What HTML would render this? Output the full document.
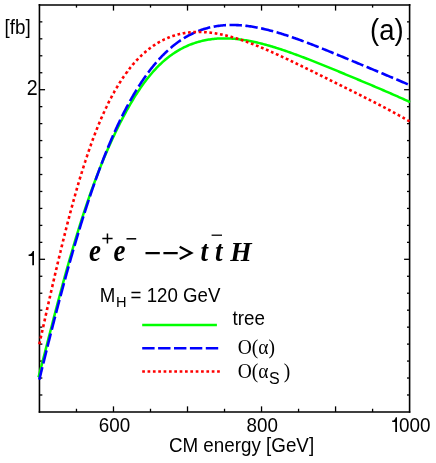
<!DOCTYPE html>
<html><head><meta charset="utf-8"><title>plot</title>
<style>
html,body{margin:0;padding:0;background:#fff;}
body{width:436px;height:463px;overflow:hidden;}
svg{display:block;will-change:transform;}
text{fill:#000;}
.sans{font-family:"Liberation Sans",sans-serif;}
.serif{font-family:"Liberation Serif",serif;}
</style></head><body>
<svg width="436" height="463" viewBox="0 0 436 463">
<rect x="0" y="0" width="436" height="463" fill="#fff"/>
<g stroke="#000" stroke-linecap="square">
<path d="M39.45,4.9 V411.95 M409.6,4.9 V411.95" stroke-width="1.6"/>
<path d="M39.45,4.9 H409.6 M39.45,411.95 H409.6" stroke-width="1.45"/>
</g>
<g stroke="#000" stroke-width="1.3">
<line x1="76.47" y1="411.95" x2="76.47" y2="408.75"/>
<line x1="76.47" y1="4.9" x2="76.47" y2="7.60"/>
<line x1="113.48" y1="411.95" x2="113.48" y2="406.35"/>
<line x1="113.48" y1="4.9" x2="113.48" y2="10.60"/>
<line x1="150.50" y1="411.95" x2="150.50" y2="408.75"/>
<line x1="150.50" y1="4.9" x2="150.50" y2="7.60"/>
<line x1="187.51" y1="411.95" x2="187.51" y2="406.35"/>
<line x1="187.51" y1="4.9" x2="187.51" y2="10.60"/>
<line x1="224.53" y1="411.95" x2="224.53" y2="408.75"/>
<line x1="224.53" y1="4.9" x2="224.53" y2="7.60"/>
<line x1="261.54" y1="411.95" x2="261.54" y2="406.35"/>
<line x1="261.54" y1="4.9" x2="261.54" y2="10.60"/>
<line x1="298.56" y1="411.95" x2="298.56" y2="408.75"/>
<line x1="298.56" y1="4.9" x2="298.56" y2="7.60"/>
<line x1="335.57" y1="411.95" x2="335.57" y2="406.35"/>
<line x1="335.57" y1="4.9" x2="335.57" y2="10.60"/>
<line x1="372.59" y1="411.95" x2="372.59" y2="408.75"/>
<line x1="372.59" y1="4.9" x2="372.59" y2="7.60"/>
<line x1="39.45" y1="394.99" x2="42.35" y2="394.99"/>
<line x1="409.6" y1="394.99" x2="407.00" y2="394.99"/>
<line x1="39.45" y1="378.03" x2="42.35" y2="378.03"/>
<line x1="409.6" y1="378.03" x2="407.00" y2="378.03"/>
<line x1="39.45" y1="361.07" x2="42.35" y2="361.07"/>
<line x1="409.6" y1="361.07" x2="407.00" y2="361.07"/>
<line x1="39.45" y1="344.11" x2="42.35" y2="344.11"/>
<line x1="409.6" y1="344.11" x2="407.00" y2="344.11"/>
<line x1="39.45" y1="327.15" x2="42.35" y2="327.15"/>
<line x1="409.6" y1="327.15" x2="407.00" y2="327.15"/>
<line x1="39.45" y1="310.19" x2="42.35" y2="310.19"/>
<line x1="409.6" y1="310.19" x2="407.00" y2="310.19"/>
<line x1="39.45" y1="293.23" x2="42.35" y2="293.23"/>
<line x1="409.6" y1="293.23" x2="407.00" y2="293.23"/>
<line x1="39.45" y1="276.27" x2="42.35" y2="276.27"/>
<line x1="409.6" y1="276.27" x2="407.00" y2="276.27"/>
<line x1="39.45" y1="259.31" x2="45.05" y2="259.31"/>
<line x1="409.6" y1="259.31" x2="404.10" y2="259.31"/>
<line x1="39.45" y1="242.35" x2="42.35" y2="242.35"/>
<line x1="409.6" y1="242.35" x2="407.00" y2="242.35"/>
<line x1="39.45" y1="225.39" x2="42.35" y2="225.39"/>
<line x1="409.6" y1="225.39" x2="407.00" y2="225.39"/>
<line x1="39.45" y1="208.42" x2="42.35" y2="208.42"/>
<line x1="409.6" y1="208.42" x2="407.00" y2="208.42"/>
<line x1="39.45" y1="191.46" x2="42.35" y2="191.46"/>
<line x1="409.6" y1="191.46" x2="407.00" y2="191.46"/>
<line x1="39.45" y1="174.50" x2="42.35" y2="174.50"/>
<line x1="409.6" y1="174.50" x2="407.00" y2="174.50"/>
<line x1="39.45" y1="157.54" x2="42.35" y2="157.54"/>
<line x1="409.6" y1="157.54" x2="407.00" y2="157.54"/>
<line x1="39.45" y1="140.58" x2="42.35" y2="140.58"/>
<line x1="409.6" y1="140.58" x2="407.00" y2="140.58"/>
<line x1="39.45" y1="123.62" x2="42.35" y2="123.62"/>
<line x1="409.6" y1="123.62" x2="407.00" y2="123.62"/>
<line x1="39.45" y1="106.66" x2="42.35" y2="106.66"/>
<line x1="409.6" y1="106.66" x2="407.00" y2="106.66"/>
<line x1="39.45" y1="89.70" x2="45.05" y2="89.70"/>
<line x1="409.6" y1="89.70" x2="404.10" y2="89.70"/>
<line x1="39.45" y1="72.74" x2="42.35" y2="72.74"/>
<line x1="409.6" y1="72.74" x2="407.00" y2="72.74"/>
<line x1="39.45" y1="55.78" x2="42.35" y2="55.78"/>
<line x1="409.6" y1="55.78" x2="407.00" y2="55.78"/>
<line x1="39.45" y1="38.82" x2="42.35" y2="38.82"/>
<line x1="409.6" y1="38.82" x2="407.00" y2="38.82"/>
<line x1="39.45" y1="21.86" x2="42.35" y2="21.86"/>
<line x1="409.6" y1="21.86" x2="407.00" y2="21.86"/>
</g>
<g fill="none">
<path d="M38.50,377.28 L39.74,372.49 L40.98,367.69 L42.23,362.87 L43.47,358.04 L44.71,353.20 L45.95,348.35 L47.20,343.51 L48.44,338.67 L49.68,333.84 L50.92,329.01 L52.17,324.20 L53.41,319.41 L54.65,314.63 L55.89,309.87 L57.14,305.14 L58.38,300.44 L59.62,295.76 L60.86,291.11 L62.11,286.49 L63.35,281.91 L64.59,277.37 L65.83,272.87 L67.08,268.40 L68.32,263.98 L69.56,259.60 L70.80,255.27 L72.05,250.98 L73.29,246.74 L74.53,242.54 L75.77,238.40 L77.02,234.31 L78.26,230.26 L79.50,226.27 L80.74,222.33 L81.99,218.44 L83.23,214.61 L84.47,210.82 L85.71,207.10 L86.96,203.42 L88.20,199.80 L89.44,196.23 L90.68,192.71 L91.93,189.24 L93.17,185.83 L94.41,182.47 L95.65,179.16 L96.90,175.89 L98.14,172.68 L99.38,169.51 L100.62,166.40 L101.87,163.32 L103.11,160.30 L104.35,157.31 L105.59,154.37 L106.84,151.48 L108.08,148.62 L109.32,145.81 L110.56,143.03 L111.81,140.30 L113.05,137.60 L114.29,134.95 L115.53,132.33 L116.78,129.76 L118.02,127.22 L119.26,124.72 L120.50,122.26 L121.75,119.83 L122.99,117.44 L124.23,115.10 L125.47,112.79 L126.72,110.51 L127.96,108.28 L129.20,106.09 L130.44,103.93 L131.69,101.81 L132.93,99.74 L134.17,97.70 L135.41,95.71 L136.66,93.75 L137.90,91.84 L139.14,89.96 L140.38,88.13 L141.63,86.34 L142.87,84.59 L144.11,82.87 L145.35,81.20 L146.60,79.57 L147.84,77.98 L149.08,76.43 L150.32,74.92 L151.57,73.45 L152.81,72.02 L154.05,70.63 L155.29,69.28 L156.54,67.96 L157.78,66.68 L159.02,65.44 L160.26,64.24 L161.51,63.07 L162.75,61.94 L163.99,60.84 L165.23,59.78 L166.47,58.75 L167.72,57.75 L168.96,56.78 L170.20,55.85 L171.44,54.95 L172.69,54.07 L173.93,53.23 L175.17,52.42 L176.41,51.63 L177.66,50.87 L178.90,50.14 L180.14,49.44 L181.38,48.76 L182.63,48.11 L183.87,47.48 L185.11,46.88 L186.35,46.30 L187.60,45.74 L188.84,45.21 L190.08,44.70 L191.32,44.22 L192.57,43.75 L193.81,43.31 L195.05,42.89 L196.29,42.49 L197.54,42.11 L198.78,41.75 L200.02,41.42 L201.26,41.10 L202.51,40.80 L203.75,40.52 L204.99,40.26 L206.23,40.01 L207.48,39.79 L208.72,39.58 L209.96,39.39 L211.20,39.22 L212.45,39.06 L213.69,38.92 L214.93,38.80 L216.17,38.70 L217.42,38.61 L218.66,38.53 L219.90,38.47 L221.14,38.43 L222.39,38.40 L223.63,38.39 L224.87,38.38 L226.11,38.40 L227.36,38.43 L228.60,38.47 L229.84,38.52 L231.08,38.59 L232.33,38.67 L233.57,38.76 L234.81,38.86 L236.05,38.98 L237.30,39.11 L238.54,39.24 L239.78,39.40 L241.02,39.56 L242.27,39.73 L243.51,39.91 L244.75,40.11 L245.99,40.31 L247.24,40.52 L248.48,40.75 L249.72,40.98 L250.96,41.22 L252.21,41.47 L253.45,41.73 L254.69,42.00 L255.93,42.27 L257.18,42.56 L258.42,42.85 L259.66,43.15 L260.90,43.46 L262.15,43.78 L263.39,44.10 L264.63,44.43 L265.87,44.77 L267.12,45.11 L268.36,45.46 L269.60,45.82 L270.84,46.18 L272.09,46.55 L273.33,46.93 L274.57,47.31 L275.81,47.69 L277.06,48.08 L278.30,48.48 L279.54,48.88 L280.78,49.29 L282.03,49.70 L283.27,50.12 L284.51,50.54 L285.75,50.96 L286.99,51.39 L288.24,51.82 L289.48,52.26 L290.72,52.70 L291.96,53.15 L293.21,53.59 L294.45,54.05 L295.69,54.50 L296.93,54.96 L298.18,55.42 L299.42,55.88 L300.66,56.35 L301.90,56.82 L303.15,57.29 L304.39,57.77 L305.63,58.24 L306.87,58.72 L308.12,59.20 L309.36,59.69 L310.60,60.17 L311.84,60.66 L313.09,61.15 L314.33,61.64 L315.57,62.13 L316.81,62.63 L318.06,63.12 L319.30,63.62 L320.54,64.12 L321.78,64.62 L323.03,65.12 L324.27,65.62 L325.51,66.13 L326.75,66.63 L328.00,67.14 L329.24,67.65 L330.48,68.15 L331.72,68.66 L332.97,69.17 L334.21,69.68 L335.45,70.19 L336.69,70.70 L337.94,71.21 L339.18,71.73 L340.42,72.24 L341.66,72.75 L342.91,73.27 L344.15,73.78 L345.39,74.30 L346.63,74.81 L347.88,75.33 L349.12,75.85 L350.36,76.36 L351.60,76.88 L352.85,77.40 L354.09,77.92 L355.33,78.44 L356.57,78.96 L357.82,79.48 L359.06,79.99 L360.30,80.52 L361.54,81.04 L362.79,81.56 L364.03,82.08 L365.27,82.60 L366.51,83.12 L367.76,83.65 L369.00,84.17 L370.24,84.69 L371.48,85.22 L372.73,85.74 L373.97,86.27 L375.21,86.80 L376.45,87.33 L377.70,87.85 L378.94,88.38 L380.18,88.91 L381.42,89.44 L382.67,89.98 L383.91,90.51 L385.15,91.04 L386.39,91.58 L387.64,92.12 L388.88,92.65 L390.12,93.19 L391.36,93.74 L392.61,94.28 L393.85,94.82 L395.09,95.37 L396.33,95.92 L397.58,96.46 L398.82,97.02 L400.06,97.57 L401.30,98.12 L402.55,98.68 L403.79,99.24 L405.03,99.80 L406.27,100.37 L407.52,100.94 L408.76,101.51 L410.00,102.08" stroke="#00ff00" stroke-width="2.5"/>
<path d="M39.30,379.60 L39.42,379.10 L39.67,378.09 L39.92,377.09 L40.17,376.08 L40.41,375.08 L40.66,374.07 L40.91,373.07 L41.15,372.07 L41.40,371.07 L41.65,370.06 L41.90,369.06 L42.14,368.06 L42.36,367.18 M43.28,363.47 L43.50,362.57 L43.75,361.57 L44.00,360.58 L44.24,359.58 L44.49,358.59 L44.74,357.59 L44.99,356.60 L45.23,355.61 L45.48,354.62 L45.73,353.62 L45.97,352.63 L46.22,351.64 L46.47,350.66 L46.56,350.31 M47.49,346.60 L47.71,345.72 L47.95,344.74 L48.20,343.76 L48.45,342.77 L48.69,341.79 L48.94,340.81 L49.19,339.83 L49.44,338.85 L49.68,337.88 L49.93,336.90 L50.18,335.92 L50.42,334.95 L50.67,333.97 L50.80,333.46 M51.75,329.75 L51.91,329.12 L52.16,328.15 L52.40,327.18 L52.65,326.22 L52.90,325.25 L53.14,324.29 L53.39,323.32 L53.64,322.36 L53.89,321.40 L54.13,320.44 L54.38,319.48 L54.63,318.52 L54.87,317.57 L55.12,316.62 M56.08,312.92 L56.36,311.85 L56.73,310.43 L57.10,309.01 L57.47,307.59 L57.84,306.17 L58.21,304.76 L58.58,303.35 L58.95,301.95 L59.32,300.54 L59.52,299.81 M60.50,296.12 L60.81,294.96 L61.18,293.57 L61.55,292.18 L61.92,290.80 L62.29,289.42 L62.66,288.04 L63.03,286.67 L63.40,285.29 L63.77,283.93 L64.02,283.04 M65.02,279.35 L65.38,278.04 L65.75,276.68 L66.12,275.34 L66.49,273.99 L66.86,272.65 L67.24,271.31 L67.61,269.98 L67.98,268.65 L68.35,267.32 L68.63,266.30 M69.67,262.62 L69.95,261.60 L70.33,260.29 L70.70,258.99 L71.07,257.68 L71.44,256.38 L71.81,255.09 L72.18,253.80 L72.55,252.51 L72.92,251.22 L73.29,249.94 L73.39,249.61 M74.45,245.95 L74.78,244.85 L75.15,243.59 L75.52,242.33 L75.89,241.07 L76.26,239.82 L76.63,238.57 L77.00,237.33 L77.37,236.09 L77.74,234.85 L78.11,233.62 L78.30,232.98 M79.41,229.33 L79.72,228.32 L80.09,227.10 L80.46,225.89 L80.83,224.69 L81.20,223.49 L81.57,222.29 L81.94,221.10 L82.32,219.91 L82.69,218.72 L83.06,217.54 L83.41,216.42 M84.56,212.78 L84.91,211.69 L85.28,210.53 L85.65,209.38 L86.02,208.23 L86.39,207.08 L86.77,205.94 L87.14,204.80 L87.51,203.67 L87.88,202.54 L88.25,201.41 L88.62,200.29 L88.74,199.94 M89.94,196.32 L90.23,195.48 L90.60,194.38 L90.97,193.29 L91.34,192.19 L91.71,191.11 L92.08,190.02 L92.45,188.94 L92.82,187.87 L93.19,186.80 L93.56,185.73 L93.93,184.67 L94.31,183.61 L94.32,183.56 M95.59,179.97 L95.91,179.08 L96.28,178.04 L96.65,177.01 L97.02,175.98 L97.40,174.96 L97.77,173.94 L98.14,172.92 L98.51,171.91 L98.88,170.91 L99.25,169.90 L99.62,168.90 L99.99,167.91 L100.21,167.32 M101.56,163.76 L101.97,162.68 L102.46,161.39 L102.96,160.11 L103.45,158.84 L103.95,157.57 L104.44,156.31 L104.94,155.06 L105.43,153.82 L105.92,152.58 L106.42,151.35 L106.46,151.24 M107.90,147.72 L108.27,146.81 L108.77,145.61 L109.26,144.43 L109.76,143.25 L110.25,142.08 L110.75,140.91 L111.24,139.75 L111.73,138.60 L112.23,137.46 L112.72,136.33 L113.14,135.37 M114.68,131.91 L115.07,131.03 L115.57,129.94 L116.06,128.85 L116.55,127.78 L117.05,126.70 L117.54,125.64 L118.04,124.58 L118.53,123.53 L119.03,122.49 L119.52,121.45 L120.02,120.42 L120.33,119.77 M121.99,116.38 L122.49,115.38 L123.11,114.15 L123.72,112.92 L124.34,111.71 L124.96,110.51 L125.58,109.32 L126.20,108.14 L126.81,106.96 L127.43,105.80 L128.05,104.66 L128.12,104.52 M129.93,101.22 L130.52,100.16 L131.14,99.06 L131.76,97.97 L132.38,96.89 L132.99,95.82 L133.61,94.76 L134.23,93.72 L134.85,92.68 L135.47,91.65 L136.08,90.63 L136.63,89.75 M138.61,86.57 L139.30,85.48 L140.04,84.33 L140.78,83.19 L141.52,82.07 L142.27,80.96 L143.01,79.86 L143.75,78.78 L144.49,77.71 L145.23,76.65 L145.97,75.61 L145.98,75.60 M148.16,72.60 L148.82,71.73 L149.56,70.75 L150.30,69.78 L151.04,68.82 L151.78,67.88 L152.52,66.95 L153.27,66.03 L154.01,65.12 L154.75,64.23 L155.49,63.35 L156.23,62.48 L156.34,62.35 M158.78,59.59 L159.57,58.72 L160.44,57.78 L161.30,56.87 L162.17,55.96 L163.03,55.08 L163.90,54.21 L164.76,53.35 L165.63,52.51 L166.49,51.69 L167.36,50.88 L167.91,50.37 M170.64,47.95 L171.56,47.17 L172.55,46.35 L173.54,45.55 L174.53,44.76 L175.52,44.00 L176.50,43.25 L177.49,42.52 L178.48,41.81 L179.47,41.12 L180.46,40.44 L180.83,40.20 M183.85,38.26 L184.91,37.62 L186.02,36.96 L187.14,36.33 L188.25,35.72 L189.36,35.12 L190.47,34.55 L191.58,33.99 L192.70,33.46 L193.81,32.94 L194.92,32.44 L195.04,32.39 M198.31,31.04 L199.37,30.63 L200.48,30.23 L201.60,29.83 L202.71,29.46 L203.82,29.10 L204.93,28.76 L206.05,28.44 L207.16,28.13 L208.27,27.84 L209.38,27.56 L210.24,27.35 M213.68,26.63 L214.82,26.42 L216.06,26.21 L217.30,26.02 L218.53,25.84 L219.77,25.69 L221.00,25.54 L222.24,25.42 L223.48,25.31 L224.71,25.22 L225.95,25.14 L226.00,25.14 M229.50,25.00 L230.64,24.98 L231.88,24.97 L233.12,24.98 L234.35,25.00 L235.59,25.03 L236.83,25.08 L238.06,25.14 L239.30,25.22 L240.53,25.30 L241.77,25.40 L241.89,25.41 M245.37,25.75 L246.59,25.89 L247.83,26.05 L249.06,26.22 L250.30,26.39 L251.53,26.58 L252.77,26.78 L254.01,26.98 L255.24,27.20 L256.48,27.43 L257.65,27.65 M261.09,28.35 L262.29,28.61 L263.52,28.89 L264.76,29.18 L266.00,29.47 L267.23,29.77 L268.47,30.08 L269.71,30.40 L270.94,30.72 L272.18,31.05 L273.19,31.33 M276.58,32.29 L277.62,32.59 L278.73,32.92 L279.84,33.26 L280.95,33.59 L282.07,33.94 L283.18,34.29 L284.29,34.64 L285.40,35.00 L286.52,35.36 L287.63,35.72 L288.51,36.02 M291.85,37.15 L292.94,37.52 L294.06,37.91 L295.17,38.30 L296.28,38.69 L297.39,39.09 L298.51,39.49 L299.62,39.89 L300.73,40.30 L301.84,40.71 L302.96,41.12 L303.64,41.37 M306.95,42.61 L308.02,43.02 L309.14,43.44 L310.25,43.87 L311.36,44.30 L312.47,44.73 L313.59,45.16 L314.70,45.60 L315.81,46.03 L316.92,46.47 L318.04,46.91 L318.65,47.15 M321.94,48.46 L322.98,48.88 L324.09,49.33 L325.21,49.77 L326.32,50.22 L327.43,50.67 L328.54,51.13 L329.65,51.58 L330.77,52.03 L331.88,52.49 L332.99,52.94 L333.57,53.18 M336.85,54.53 L337.94,54.97 L339.05,55.43 L340.16,55.89 L341.27,56.35 L342.39,56.81 L343.50,57.27 L344.61,57.73 L345.72,58.19 L346.84,58.66 L347.95,59.12 L348.46,59.33 M351.73,60.69 L352.77,61.12 L353.88,61.59 L354.99,62.05 L356.11,62.51 L357.22,62.98 L358.33,63.44 L359.44,63.91 L360.56,64.37 L361.67,64.83 L362.78,65.30 L363.33,65.53 M366.60,66.89 L367.60,67.31 L368.71,67.78 L369.83,68.24 L370.94,68.71 L372.05,69.17 L373.16,69.64 L374.28,70.10 L375.39,70.57 L376.50,71.03 L377.61,71.50 L378.19,71.74 M381.46,73.11 L382.56,73.57 L383.67,74.03 L384.78,74.50 L385.90,74.97 L387.01,75.44 L388.12,75.90 L389.23,76.37 L390.35,76.84 L391.46,77.31 L392.57,77.78 L393.05,77.98 M396.31,79.36 L397.39,79.81 L398.50,80.29 L399.62,80.76 L400.73,81.23 L401.84,81.71 L402.95,82.18 L404.07,82.66 L405.18,83.13 L406.29,83.61 L407.40,84.09 L407.87,84.29" stroke="#0000ff" stroke-width="2.6"/>
<path d="M39.30,344.25 L39.30,344.25 L39.42,343.70 L39.55,343.14 L39.67,342.59 L39.79,342.04 L39.92,341.48 L39.94,341.37 M40.58,338.54 L40.66,338.16 L40.78,337.60 L40.91,337.05 L41.03,336.49 L41.15,335.94 L41.22,335.65 M41.85,332.82 L41.90,332.61 L42.02,332.06 L42.14,331.50 L42.27,330.95 L42.39,330.40 L42.49,329.94 M43.12,327.10 L43.13,327.07 L43.26,326.52 L43.38,325.96 L43.50,325.41 L43.63,324.86 L43.75,324.30 L43.77,324.22 M44.40,321.39 L44.49,320.98 L44.62,320.43 L44.74,319.88 L44.86,319.32 L44.99,318.77 L45.05,318.51 M45.68,315.68 L45.73,315.46 L45.85,314.91 L45.97,314.35 L46.10,313.80 L46.22,313.25 L46.33,312.79 M46.96,309.96 L46.96,309.95 L47.09,309.40 L47.21,308.85 L47.33,308.30 L47.46,307.75 L47.58,307.20 L47.61,307.08 M48.25,304.25 L48.32,303.91 L48.45,303.36 L48.57,302.81 L48.69,302.26 L48.82,301.71 L48.90,301.37 M49.54,298.54 L49.56,298.44 L49.68,297.89 L49.81,297.34 L49.93,296.80 L50.05,296.25 L50.18,295.71 L50.19,295.66 M50.83,292.83 L50.92,292.45 L51.04,291.90 L51.17,291.36 L51.29,290.82 L51.41,290.28 L51.49,289.95 M52.14,287.12 L52.16,287.03 L52.28,286.49 L52.40,285.95 L52.53,285.42 L52.65,284.88 L52.77,284.34 L52.80,284.24 M53.45,281.41 L53.51,281.11 L53.64,280.58 L53.76,280.04 L53.89,279.51 L54.01,278.97 L54.11,278.54 M54.76,275.71 L54.87,275.24 L55.00,274.71 L55.12,274.17 L55.25,273.64 L55.37,273.11 L55.43,272.83 M56.09,270.01 L56.11,269.94 L56.23,269.41 L56.36,268.88 L56.48,268.35 L56.61,267.83 L56.73,267.30 L56.77,267.13 M57.43,264.31 L57.47,264.15 L57.59,263.63 L57.72,263.10 L57.84,262.58 L57.96,262.06 L58.09,261.54 L58.11,261.44 M58.78,258.62 L58.83,258.42 L58.95,257.90 L59.08,257.38 L59.20,256.86 L59.32,256.35 L59.45,255.83 L59.47,255.75 M60.14,252.93 L60.19,252.74 L60.31,252.23 L60.44,251.72 L60.56,251.20 L60.68,250.69 L60.81,250.18 L60.84,250.06 M61.52,247.24 L61.55,247.12 L61.67,246.62 L61.80,246.11 L61.92,245.60 L62.04,245.10 L62.17,244.59 L62.22,244.37 M62.91,241.56 L63.03,241.07 L63.16,240.57 L63.28,240.07 L63.40,239.57 L63.53,239.07 L63.62,238.69 M64.32,235.88 L64.39,235.59 L64.52,235.09 L64.64,234.60 L64.76,234.10 L64.89,233.61 L65.01,233.12 L65.04,233.02 M65.74,230.21 L65.75,230.17 L65.88,229.68 L66.00,229.20 L66.12,228.71 L66.25,228.22 L66.37,227.74 L66.47,227.35 M67.19,224.54 L67.24,224.35 L67.36,223.87 L67.48,223.39 L67.61,222.91 L67.73,222.43 L67.85,221.95 L67.92,221.68 M68.65,218.88 L68.72,218.61 L68.84,218.14 L68.97,217.67 L69.09,217.19 L69.21,216.72 L69.34,216.25 L69.40,216.03 M70.13,213.23 L70.20,212.97 L70.33,212.50 L70.45,212.04 L70.57,211.57 L70.70,211.11 L70.82,210.64 L70.89,210.38 M71.64,207.58 L71.69,207.41 L71.81,206.96 L71.93,206.50 L72.06,206.04 L72.18,205.59 L72.30,205.13 L72.41,204.73 M73.17,201.94 L73.29,201.51 L73.42,201.06 L73.54,200.61 L73.66,200.16 L73.79,199.71 L73.91,199.27 L73.96,199.10 M74.73,196.31 L74.78,196.16 L74.90,195.72 L75.02,195.28 L75.15,194.84 L75.27,194.40 L75.39,193.96 L75.52,193.52 L75.53,193.47 M76.32,190.69 L76.38,190.48 L76.51,190.04 L76.63,189.61 L76.75,189.18 L76.88,188.75 L77.00,188.32 L77.12,187.89 L77.13,187.86 M77.94,185.08 L77.99,184.91 L78.11,184.49 L78.24,184.07 L78.36,183.65 L78.48,183.23 L78.61,182.81 L78.73,182.39 L78.77,182.26 M79.59,179.49 L79.60,179.47 L79.72,179.06 L79.84,178.65 L79.97,178.24 L80.09,177.82 L80.21,177.41 L80.34,177.00 L80.44,176.67 M81.28,173.90 L81.33,173.75 L81.45,173.35 L81.57,172.95 L81.70,172.55 L81.82,172.14 L81.94,171.74 L82.07,171.35 L82.15,171.09 M83.01,168.33 L83.06,168.18 L83.18,167.78 L83.30,167.39 L83.43,167.00 L83.55,166.61 L83.68,166.22 L83.80,165.83 L83.90,165.53 M84.78,162.78 L84.79,162.75 L84.91,162.36 L85.03,161.98 L85.16,161.60 L85.28,161.22 L85.41,160.84 L85.53,160.46 L85.65,160.09 L85.69,159.98 M86.59,157.24 L86.64,157.09 L86.77,156.72 L86.89,156.35 L87.01,155.98 L87.14,155.61 L87.26,155.24 L87.38,154.88 L87.51,154.51 L87.53,154.45 M88.45,151.72 L88.50,151.60 L88.62,151.24 L88.74,150.89 L88.87,150.53 L88.99,150.17 L89.11,149.81 L89.24,149.46 L89.36,149.10 L89.41,148.95 M90.37,146.23 L90.47,145.94 L90.60,145.59 L90.72,145.24 L90.84,144.90 L90.97,144.55 L91.09,144.21 L91.22,143.86 L91.34,143.52 L91.36,143.47 M92.34,140.76 L92.45,140.46 L92.57,140.13 L92.70,139.79 L92.82,139.46 L92.95,139.12 L93.07,138.79 L93.19,138.46 L93.32,138.13 L93.36,138.01 M94.38,135.32 L94.43,135.18 L94.55,134.85 L94.68,134.53 L94.80,134.21 L94.92,133.88 L95.05,133.56 L95.17,133.24 L95.29,132.92 L95.42,132.60 L95.43,132.58 M96.48,129.90 L96.53,129.76 L96.65,129.45 L96.78,129.14 L96.90,128.83 L97.02,128.52 L97.15,128.21 L97.27,127.90 L97.40,127.60 L97.52,127.29 L97.56,127.18 M98.65,124.52 L98.76,124.26 L98.88,123.96 L99.00,123.66 L99.13,123.36 L99.25,123.07 L99.37,122.77 L99.50,122.47 L99.62,122.18 L99.74,121.89 L99.77,121.82 M100.89,119.18 L100.98,118.98 L101.10,118.69 L101.23,118.41 L101.35,118.12 L101.47,117.84 L101.60,117.55 L101.72,117.27 L101.85,116.99 L101.97,116.71 L102.06,116.50 M103.22,113.89 L103.33,113.65 L103.45,113.37 L103.58,113.10 L103.70,112.83 L103.82,112.56 L103.95,112.29 L104.07,112.01 L104.19,111.74 L104.32,111.48 L104.43,111.23 M105.64,108.64 L105.68,108.55 L105.80,108.29 L105.92,108.03 L106.05,107.77 L106.17,107.51 L106.30,107.25 L106.42,106.99 L106.54,106.74 L106.67,106.48 L106.79,106.22 L106.89,106.01 M108.15,103.44 L108.27,103.19 L108.40,102.94 L108.52,102.70 L108.64,102.45 L108.77,102.20 L108.89,101.96 L109.01,101.71 L109.14,101.47 L109.26,101.22 L109.39,100.98 L109.46,100.84 M110.76,98.30 L110.87,98.10 L110.99,97.86 L111.12,97.63 L111.24,97.40 L111.36,97.16 L111.49,96.93 L111.61,96.69 L111.73,96.46 L111.86,96.23 L111.98,96.00 L112.11,95.77 L112.12,95.74 M113.48,93.24 L113.59,93.05 L113.71,92.82 L113.84,92.60 L113.96,92.38 L114.08,92.16 L114.21,91.94 L114.33,91.72 L114.45,91.50 L114.58,91.28 L114.70,91.06 L114.82,90.84 L114.90,90.71 M116.32,88.25 L116.43,88.06 L116.55,87.85 L116.68,87.64 L116.80,87.43 L116.93,87.22 L117.05,87.02 L117.17,86.81 L117.30,86.60 L117.42,86.39 L117.54,86.19 L117.67,85.98 L117.79,85.78 L117.80,85.76 M119.28,83.35 L119.40,83.17 L119.52,82.97 L119.65,82.77 L119.77,82.58 L119.89,82.38 L120.02,82.19 L120.14,81.99 L120.26,81.80 L120.39,81.60 L120.51,81.41 L120.63,81.22 L120.76,81.03 L120.83,80.91 M122.38,78.55 L122.49,78.39 L122.61,78.21 L122.74,78.02 L122.86,77.84 L122.98,77.65 L123.11,77.47 L123.23,77.29 L123.35,77.11 L123.48,76.93 L123.60,76.75 L123.72,76.57 L123.85,76.39 L123.97,76.21 L124.00,76.17 M125.62,73.87 L125.70,73.75 L125.83,73.58 L125.95,73.41 L126.07,73.24 L126.20,73.07 L126.32,72.90 L126.44,72.73 L126.57,72.56 L126.69,72.39 L126.81,72.23 L126.94,72.06 L127.06,71.89 L127.19,71.73 L127.31,71.56 L127.31,71.55 M129.01,69.32 L129.04,69.28 L129.16,69.13 L129.29,68.97 L129.41,68.81 L129.53,68.65 L129.66,68.49 L129.78,68.34 L129.90,68.18 L130.03,68.02 L130.15,67.87 L130.28,67.71 L130.40,67.56 L130.52,67.41 L130.65,67.25 L130.77,67.10 L130.79,67.08 M132.57,64.92 L132.62,64.85 L132.75,64.71 L132.87,64.56 L132.99,64.42 L133.12,64.27 L133.24,64.13 L133.37,63.98 L133.49,63.84 L133.61,63.69 L133.74,63.55 L133.86,63.41 L133.98,63.27 L134.11,63.13 L134.23,62.98 L134.35,62.84 L134.43,62.76 M136.29,60.69 L136.33,60.65 L136.46,60.52 L136.58,60.38 L136.70,60.25 L136.83,60.12 L136.95,59.99 L137.07,59.85 L137.20,59.72 L137.32,59.59 L137.44,59.46 L137.57,59.33 L137.69,59.20 L137.82,59.07 L137.94,58.94 L138.06,58.82 L138.19,58.69 L138.24,58.63 M140.19,56.67 L140.29,56.57 L140.41,56.45 L140.53,56.33 L140.66,56.21 L140.78,56.09 L140.91,55.97 L141.03,55.85 L141.15,55.73 L141.28,55.61 L141.40,55.50 L141.52,55.38 L141.65,55.26 L141.77,55.14 L141.89,55.03 L142.02,54.91 L142.14,54.80 L142.23,54.72 M144.27,52.86 L144.37,52.78 L144.49,52.67 L144.61,52.56 L144.74,52.45 L144.86,52.34 L144.98,52.24 L145.11,52.13 L145.23,52.02 L145.36,51.92 L145.48,51.81 L145.60,51.71 L145.73,51.60 L145.85,51.50 L145.97,51.39 L146.10,51.29 L146.22,51.18 L146.34,51.08 L146.40,51.03 M148.53,49.31 L148.69,49.18 L148.94,48.99 L149.19,48.80 L149.43,48.61 L149.68,48.42 L149.93,48.23 L150.18,48.05 L150.42,47.86 L150.67,47.68 L150.75,47.62 M152.98,46.03 L153.14,45.91 L153.39,45.75 L153.64,45.58 L153.88,45.41 L154.13,45.24 L154.38,45.08 L154.63,44.92 L154.87,44.76 L155.12,44.60 L155.29,44.49 M157.59,43.06 L157.84,42.91 L158.09,42.76 L158.33,42.62 L158.58,42.47 L158.83,42.33 L159.08,42.19 L159.32,42.05 L159.57,41.91 L159.82,41.77 L159.99,41.68 M162.37,40.41 L162.54,40.33 L162.78,40.20 L163.03,40.08 L163.28,39.95 L163.53,39.83 L163.77,39.71 L164.02,39.59 L164.27,39.48 L164.51,39.36 L164.76,39.24 L164.84,39.21 M167.30,38.11 L167.48,38.03 L167.73,37.93 L167.98,37.83 L168.22,37.72 L168.47,37.62 L168.72,37.52 L168.96,37.43 L169.21,37.33 L169.46,37.23 L169.71,37.14 L169.83,37.09 M172.35,36.17 L172.55,36.10 L172.80,36.02 L173.04,35.94 L173.29,35.86 L173.54,35.78 L173.79,35.70 L174.03,35.62 L174.28,35.54 L174.53,35.46 L174.77,35.39 L174.94,35.34 M177.50,34.61 L177.74,34.54 L177.99,34.48 L178.24,34.41 L178.48,34.35 L178.73,34.29 L178.98,34.23 L179.22,34.17 L179.47,34.11 L179.72,34.05 L179.97,33.99 L180.14,33.95 M182.74,33.41 L182.93,33.37 L183.18,33.32 L183.43,33.28 L183.67,33.23 L183.92,33.19 L184.17,33.14 L184.42,33.10 L184.66,33.06 L184.91,33.02 L185.16,32.98 L185.40,32.94 L185.40,32.94 M188.03,32.57 L188.25,32.55 L188.49,32.52 L188.74,32.49 L188.99,32.46 L189.24,32.43 L189.48,32.41 L189.73,32.38 L189.98,32.36 L190.23,32.33 L190.47,32.31 L190.72,32.29 L190.72,32.29 M193.36,32.09 L193.56,32.08 L193.81,32.06 L194.06,32.05 L194.30,32.04 L194.55,32.03 L194.80,32.02 L195.05,32.01 L195.29,32.00 L195.54,31.99 L195.79,31.98 L196.03,31.97 L196.06,31.97 M198.71,31.94 L198.88,31.94 L199.12,31.94 L199.37,31.94 L199.62,31.95 L199.87,31.95 L200.11,31.95 L200.36,31.96 L200.61,31.96 L200.86,31.97 L201.10,31.97 L201.35,31.98 L201.41,31.98 M204.06,32.10 L204.19,32.11 L204.44,32.12 L204.69,32.14 L204.93,32.16 L205.18,32.17 L205.43,32.19 L205.68,32.21 L205.92,32.23 L206.17,32.24 L206.42,32.26 L206.67,32.28 L206.75,32.29 M209.39,32.55 L209.63,32.57 L209.88,32.60 L210.13,32.63 L210.37,32.66 L210.62,32.69 L210.87,32.72 L211.11,32.75 L211.36,32.78 L211.61,32.81 L211.86,32.84 L212.08,32.87 M214.71,33.25 L214.95,33.29 L215.19,33.33 L215.44,33.37 L215.69,33.41 L215.94,33.45 L216.18,33.49 L216.43,33.53 L216.68,33.57 L216.92,33.62 L217.17,33.66 L217.37,33.70 M219.99,34.19 L220.14,34.22 L220.39,34.27 L220.63,34.32 L220.88,34.37 L221.13,34.42 L221.37,34.47 L221.62,34.52 L221.87,34.57 L222.12,34.63 L222.36,34.68 L222.61,34.73 L222.64,34.74 M225.23,35.33 L225.45,35.38 L225.70,35.44 L225.95,35.50 L226.20,35.56 L226.44,35.62 L226.69,35.68 L226.94,35.75 L227.18,35.81 L227.43,35.87 L227.68,35.93 L227.87,35.98 M230.45,36.66 L230.64,36.71 L230.89,36.78 L231.14,36.85 L231.39,36.92 L231.63,36.99 L231.88,37.06 L232.13,37.13 L232.38,37.20 L232.62,37.27 L232.87,37.34 L233.06,37.39 M235.62,38.15 L235.84,38.22 L236.08,38.29 L236.33,38.37 L236.58,38.44 L236.83,38.52 L237.07,38.60 L237.32,38.67 L237.57,38.75 L237.81,38.83 L238.06,38.91 L238.22,38.96 M240.76,39.78 L240.90,39.83 L241.15,39.91 L241.40,40.00 L241.65,40.08 L241.89,40.16 L242.14,40.25 L242.39,40.33 L242.63,40.41 L242.88,40.50 L243.13,40.58 L243.34,40.66 M245.87,41.54 L246.10,41.62 L246.34,41.71 L246.59,41.80 L246.84,41.89 L247.08,41.98 L247.33,42.07 L247.58,42.16 L247.83,42.25 L248.07,42.34 L248.32,42.43 L248.43,42.47 M250.94,43.41 L251.16,43.49 L251.41,43.59 L251.66,43.68 L251.91,43.78 L252.15,43.87 L252.40,43.96 L252.65,44.06 L252.89,44.16 L253.14,44.25 L253.39,44.35 L253.49,44.39 M255.98,45.37 L256.23,45.47 L256.48,45.57 L256.73,45.66 L256.97,45.76 L257.22,45.86 L257.47,45.96 L257.72,46.06 L257.96,46.16 L258.21,46.26 L258.46,46.36 L258.52,46.39 M261.00,47.41 L261.18,47.48 L261.42,47.59 L261.67,47.69 L261.92,47.79 L262.16,47.90 L262.41,48.00 L262.66,48.10 L262.91,48.21 L263.15,48.31 L263.40,48.42 L263.53,48.47 M266.00,49.52 L266.12,49.58 L266.37,49.68 L266.61,49.79 L266.86,49.90 L267.11,50.00 L267.36,50.11 L267.60,50.22 L267.85,50.33 L268.10,50.43 L268.35,50.54 L268.51,50.61 M270.97,51.70 L271.19,51.79 L271.44,51.90 L271.68,52.01 L271.93,52.12 L272.18,52.23 L272.42,52.34 L272.67,52.45 L272.92,52.57 L273.17,52.68 L273.41,52.79 L273.47,52.81 M275.92,53.92 L276.13,54.02 L276.38,54.13 L276.63,54.24 L276.87,54.35 L277.12,54.47 L277.37,54.58 L277.62,54.69 L277.86,54.81 L278.11,54.92 L278.36,55.03 L278.41,55.06 M280.86,56.19 L281.08,56.29 L281.32,56.40 L281.57,56.52 L281.82,56.63 L282.07,56.75 L282.31,56.86 L282.56,56.98 L282.81,57.09 L283.05,57.21 L283.30,57.32 L283.34,57.34 M285.78,58.49 L286.02,58.60 L286.27,58.72 L286.52,58.83 L286.76,58.95 L287.01,59.07 L287.26,59.18 L287.50,59.30 L287.75,59.42 L288.00,59.54 L288.25,59.65 L288.26,59.66 M290.69,60.82 L290.84,60.89 L291.09,61.01 L291.34,61.13 L291.58,61.24 L291.83,61.36 L292.08,61.48 L292.33,61.60 L292.57,61.72 L292.82,61.84 L293.07,61.95 L293.17,62.00 M295.60,63.17 L295.79,63.26 L296.03,63.38 L296.28,63.50 L296.53,63.62 L296.78,63.74 L297.02,63.86 L297.27,63.98 L297.52,64.10 L297.76,64.22 L298.01,64.34 L298.07,64.37 M300.49,65.55 L300.73,65.66 L300.98,65.78 L301.23,65.90 L301.47,66.02 L301.72,66.14 L301.97,66.26 L302.21,66.38 L302.46,66.51 L302.71,66.63 L302.96,66.75 L302.96,66.75 M305.38,67.93 L305.55,68.02 L305.80,68.14 L306.05,68.26 L306.29,68.38 L306.54,68.50 L306.79,68.62 L307.03,68.74 L307.28,68.87 L307.53,68.99 L307.78,69.11 L307.85,69.14 M310.27,70.33 L310.50,70.44 L310.74,70.57 L310.99,70.69 L311.24,70.81 L311.48,70.93 L311.73,71.05 L311.98,71.17 L312.23,71.30 L312.47,71.42 L312.72,71.54 L312.73,71.55 M315.15,72.74 L315.32,72.82 L315.56,72.94 L315.81,73.07 L316.06,73.19 L316.31,73.31 L316.55,73.43 L316.80,73.55 L317.05,73.68 L317.29,73.80 L317.54,73.92 L317.61,73.96 M320.03,75.15 L320.26,75.26 L320.51,75.39 L320.76,75.51 L321.00,75.63 L321.25,75.75 L321.50,75.88 L321.74,76.00 L321.99,76.12 L322.24,76.24 L322.49,76.37 L322.49,76.37 M324.91,77.57 L325.08,77.65 L325.33,77.77 L325.58,77.90 L325.82,78.02 L326.07,78.14 L326.32,78.26 L326.56,78.39 L326.81,78.51 L327.06,78.63 L327.31,78.75 L327.37,78.79 M329.79,79.98 L330.03,80.10 L330.27,80.23 L330.52,80.35 L330.77,80.47 L331.01,80.59 L331.26,80.72 L331.51,80.84 L331.76,80.96 L332.00,81.08 L332.25,81.21 M334.66,82.40 L334.85,82.49 L335.09,82.62 L335.34,82.74 L335.59,82.86 L335.84,82.99 L336.08,83.11 L336.33,83.23 L336.58,83.35 L336.82,83.48 L337.07,83.60 L337.13,83.63 M339.54,84.82 L339.67,84.89 L339.91,85.01 L340.16,85.13 L340.41,85.26 L340.66,85.38 L340.90,85.50 L341.15,85.62 L341.40,85.75 L341.64,85.87 L341.89,85.99 L342.00,86.05 M344.42,87.25 L344.61,87.34 L344.86,87.47 L345.11,87.59 L345.35,87.71 L345.60,87.84 L345.85,87.96 L346.09,88.08 L346.34,88.20 L346.59,88.33 L346.84,88.45 L346.88,88.47 M349.29,89.67 L349.43,89.74 L349.68,89.87 L349.93,89.99 L350.17,90.11 L350.42,90.23 L350.67,90.36 L350.92,90.48 L351.16,90.60 L351.41,90.73 L351.66,90.85 L351.75,90.90 M354.16,92.10 L354.38,92.21 L354.62,92.33 L354.87,92.45 L355.12,92.58 L355.37,92.70 L355.61,92.83 L355.86,92.95 L356.11,93.07 L356.35,93.20 L356.60,93.32 L356.62,93.33 M359.03,94.54 L359.20,94.62 L359.44,94.74 L359.69,94.87 L359.94,94.99 L360.19,95.11 L360.43,95.24 L360.68,95.36 L360.93,95.49 L361.17,95.61 L361.42,95.73 L361.49,95.77 M363.90,96.98 L364.14,97.10 L364.39,97.23 L364.64,97.35 L364.88,97.48 L365.13,97.60 L365.38,97.73 L365.62,97.85 L365.87,97.98 L366.12,98.10 L366.36,98.22 M368.76,99.44 L368.96,99.54 L369.21,99.66 L369.46,99.79 L369.70,99.92 L369.95,100.04 L370.20,100.17 L370.45,100.29 L370.69,100.42 L370.94,100.54 L371.19,100.67 L371.21,100.68 M373.62,101.91 L373.78,101.99 L374.03,102.12 L374.28,102.25 L374.52,102.37 L374.77,102.50 L375.02,102.63 L375.27,102.75 L375.51,102.88 L375.76,103.01 L376.01,103.13 L376.07,103.16 M378.46,104.40 L378.60,104.47 L378.85,104.60 L379.10,104.73 L379.35,104.86 L379.59,104.98 L379.84,105.11 L380.09,105.24 L380.33,105.37 L380.58,105.50 L380.83,105.63 L380.91,105.67 M383.30,106.92 L383.55,107.04 L383.80,107.17 L384.04,107.30 L384.29,107.43 L384.54,107.56 L384.78,107.69 L385.03,107.82 L385.28,107.95 L385.53,108.08 L385.74,108.20 M388.13,109.46 L388.37,109.59 L388.62,109.72 L388.86,109.85 L389.11,109.98 L389.36,110.12 L389.60,110.25 L389.85,110.38 L390.10,110.51 L390.35,110.64 L390.56,110.76 M392.94,112.04 L393.07,112.11 L393.31,112.24 L393.56,112.38 L393.81,112.51 L394.05,112.65 L394.30,112.78 L394.55,112.91 L394.80,113.05 L395.04,113.18 L395.29,113.32 L395.36,113.35 M397.73,114.66 L397.89,114.74 L398.13,114.88 L398.38,115.02 L398.63,115.16 L398.88,115.29 L399.12,115.43 L399.37,115.57 L399.62,115.70 L399.86,115.84 L400.11,115.98 L400.14,115.99 M402.50,117.32 L402.71,117.44 L402.95,117.58 L403.20,117.72 L403.45,117.86 L403.70,118.00 L403.94,118.14 L404.19,118.28 L404.44,118.42 L404.68,118.56 L404.90,118.68 M407.24,120.03 L407.40,120.13 L407.65,120.27 L407.90,120.42 L408.15,120.56 L408.39,120.70 L408.64,120.85 L408.89,120.99 L409.13,121.14 L409.38,121.28 L409.63,121.43" stroke="#ff0000" stroke-width="2.6"/>
</g>
<g fill="none">
<line x1="142.2" y1="325" x2="216.9" y2="325" stroke="#00ff00" stroke-width="2.5"/>
<line x1="142.2" y1="348.3" x2="218.4" y2="348.3" stroke="#0000ff" stroke-width="2.6" stroke-dasharray="12.4 3.5"/>
<line x1="142.2" y1="371.5" x2="221.2" y2="371.5" stroke="#ff0000" stroke-width="2.6" stroke-dasharray="2.7 2.65"/>
</g>
<g class="sans">
<text x="4.6" y="33.9" font-size="18.8" text-anchor="start" transform="translate(0,33.9) scale(1,1.12) translate(0,-33.9)">[fb]</text>
<text x="37.6" y="95.3" font-size="19.6" text-anchor="end" transform="translate(0,95.3) scale(1,1.09) translate(0,-95.3)">2</text>
<path fill="#000" d="M34.00,251.00 L34.00,265.30 L32.25,265.30 L32.25,255.90 L28.60,255.90 L28.60,254.60 C30.90,254.50 31.75,253.20 32.80,251.00 Z"/>
<text x="114.5" y="432" font-size="18.8" text-anchor="middle" transform="translate(0,432) scale(1,1.09) translate(0,-432)">600</text>
<text x="262.2" y="432" font-size="18.8" text-anchor="middle" transform="translate(0,432) scale(1,1.09) translate(0,-432)">800</text>
<path fill="#000" d="M397.00,417.20 L397.00,431.90 L395.25,431.90 L395.25,421.90 L392.20,421.90 L392.20,420.60 C394.50,420.50 394.75,419.40 395.80,417.20 Z"/>
<text x="398.9" y="432" font-size="18.9" text-anchor="start" transform="translate(0,432) scale(1,1.09) translate(0,-432)">000</text>
<text x="168.9" y="452.3" font-size="18.8" text-anchor="start" transform="translate(0,452.3) scale(1,1.11) translate(0,-452.3)">CM energy [GeV]</text>
<text x="370.0" y="40.4" font-size="27.5" text-anchor="start" transform="translate(0,40.4) scale(1,1.1) translate(0,-40.4)">(a)</text>
<text x="99.7" y="301.7" font-size="18.7" text-anchor="start" transform="translate(0,301.7) scale(1,1.08) translate(0,-301.7)">M</text>
<text x="116.0" y="306.5" font-size="14.6" text-anchor="start">H</text>
<text x="125.4" y="301.7" font-size="18.7" text-anchor="start" transform="translate(0,301.7) scale(1,1.08) translate(0,-301.7)" xml:space="preserve"> = 120 GeV</text>
<text x="232.5" y="325.1" font-size="18.8" text-anchor="start" transform="translate(0,325.1) scale(1,1.08) translate(0,-325.1)">tree</text>
<text x="269.0" y="383.6" font-size="16" text-anchor="start">S</text>
</g>
<g class="serif">
<text x="237.8" y="353.7" font-size="19.5" text-anchor="start" transform="translate(0,353.7) scale(1,1.07) translate(0,-353.7)">O(α)</text>
<text x="237.8" y="378.5" font-size="19.5" text-anchor="start" transform="translate(0,378.5) scale(1,1.07) translate(0,-378.5)">O(α</text>
<text x="283.8" y="378.5" font-size="19.5" text-anchor="start" transform="translate(0,378.5) scale(1,1.07) translate(0,-378.5)">)</text>
<g font-weight="bold" font-style="italic">
<text x="89.0" y="260.8" font-size="27" text-anchor="start" transform="translate(0,260.8) scale(1,1.15) translate(0,-260.8)">e</text>
<text x="113.5" y="260.8" font-size="27" text-anchor="start" transform="translate(0,260.8) scale(1,1.15) translate(0,-260.8)">e</text>
<text x="200.6" y="261.5" font-size="27" text-anchor="start" transform="translate(0,261.5) scale(1,1.1) translate(0,-261.5)">t</text>
<text x="215.1" y="261.5" font-size="27" text-anchor="start" transform="translate(0,261.5) scale(1,1.1) translate(0,-261.5)">t</text>
<text x="230.2" y="261.5" font-size="27.5" text-anchor="start" transform="translate(0,261.5) scale(1,1.03) translate(0,-261.5)">H</text>
</g>
</g>
<g stroke="#000" fill="none">
<path d="M102.3,238.6 H112.6 M107.45,233.4 V243.6" stroke-width="1.5"/>
<path d="M126.5,238.8 H136.2" stroke-width="1.5"/>
<path d="M145.5,253.1 H159.8 M163.4,253.1 H177.7" stroke-width="2.4"/>
<path d="M179.7,246.8 L191.3,252.9 L179.7,259.0" stroke-width="2.3"/>
<path d="M211.6,235.2 H222" stroke-width="1.3"/>
</g>
</svg>
</body></html>
